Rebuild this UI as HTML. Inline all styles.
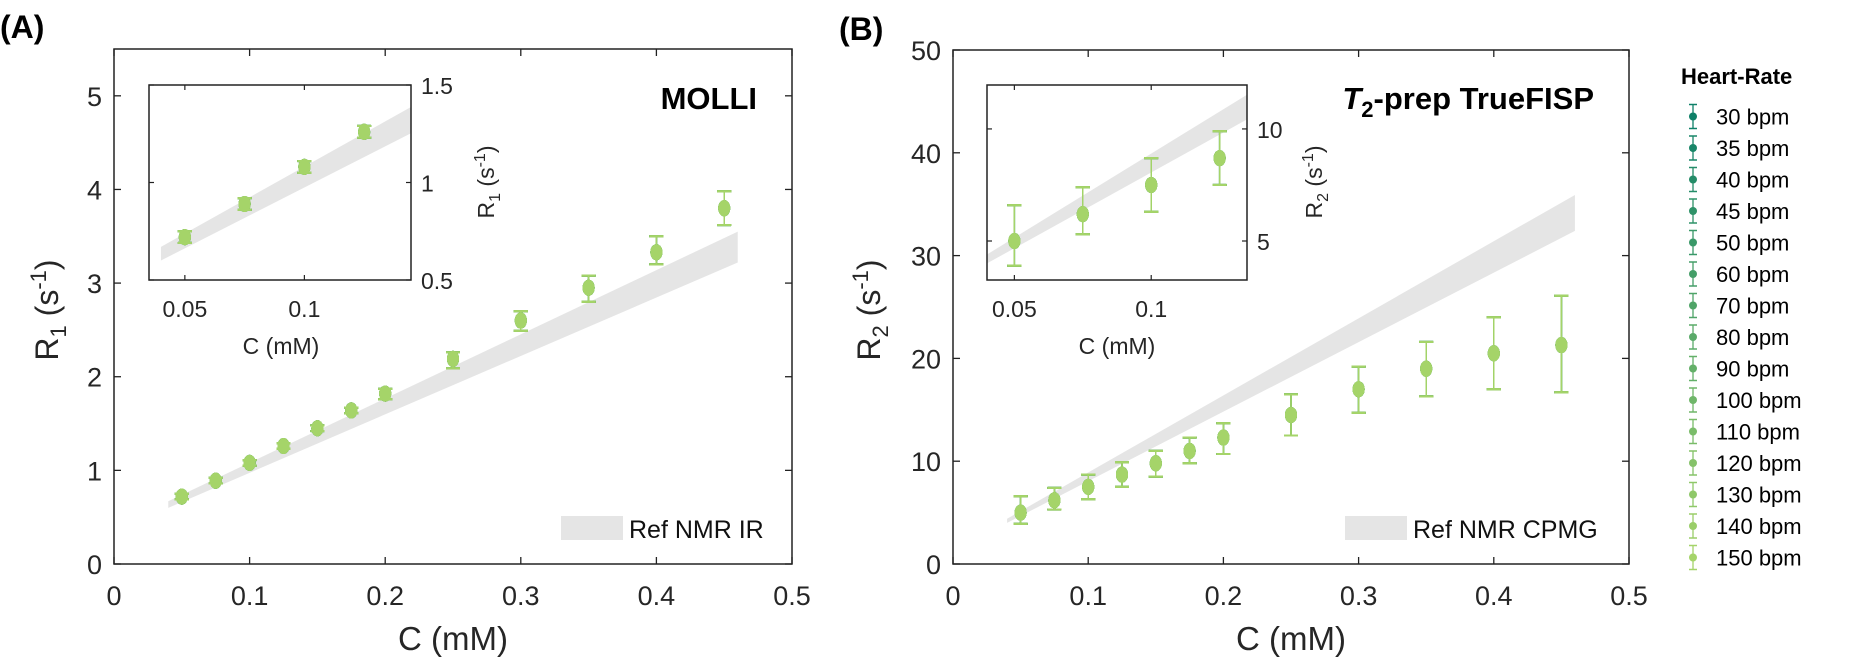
<!DOCTYPE html>
<html><head><meta charset="utf-8"><style>
html,body{margin:0;padding:0;background:#fff}
svg{display:block;font-family:"Liberation Sans",Arial,sans-serif}
</style></head><body>
<svg id="chart" width="1866" height="664" viewBox="0 0 1866 664" xmlns="http://www.w3.org/2000/svg"></svg>
<script>
const concs = [0.05,0.075,0.1,0.125,0.15,0.175,0.2,0.25,0.3,0.35,0.4,0.45];
const heartRates = [30,35,40,45,50,60,70,80,90,100,110,120,130,140,150];
// Panel A (MOLLI R1)
const meanA = [0.72,0.89,1.08,1.26,1.45,1.64,1.82,2.19,2.6,2.95,3.33,3.8];
const loA   = [0.69,0.86,1.05,1.23,1.42,1.61,1.76,2.09,2.49,2.8,3.2,3.62];
const hiA   = [0.75,0.92,1.11,1.29,1.48,1.67,1.87,2.26,2.7,3.08,3.5,3.98];
const bandAx = [0.04,0.46];
const bandAlo = [0.6,3.22];
const bandAhi = [0.67,3.55];
// Panel B (T2-prep TrueFISP R2)
const meanB = [5.0,6.2,7.5,8.7,9.8,11.0,12.3,14.5,17.0,19.0,20.5,21.3];
const loB   = [3.9,5.3,6.3,7.5,8.5,9.8,10.7,12.5,14.7,16.3,17.0,16.7];
const hiB   = [6.6,7.4,8.7,9.9,11.0,12.3,13.7,16.5,19.2,21.6,24.0,26.1];
const bandBx = [0.04,0.46];
const bandBlo = [4.0,32.4];
const bandBhi = [4.4,35.9];
const xTicksMain = [0,0.1,0.2,0.3,0.4,0.5];
const yTicksA = [0,1,2,3,4,5];
const yTicksB = [0,10,20,30,40,50];
const xTicksInset = [0.05,0.1];
const yTicksInsetA = [0.5,1,1.5];
const yTicksInsetB = [5,10];

const svg = document.getElementById('chart');
const NS = 'http://www.w3.org/2000/svg';
function mk(tag, attrs, parent){const e=document.createElementNS(NS,tag);for(const k in attrs)e.setAttribute(k,attrs[k]);(parent||svg).appendChild(e);return e;}
function txt(s, attrs, parent){const e=mk('text',attrs,parent);e.textContent=s;return e;}
function lerp(a,b,t){return Math.round(a+(b-a)*t);}
const c0=[14,128,104], c1=[165,212,105];
function col(i){const t=i/(heartRates.length-1);return `rgb(${lerp(c0[0],c1[0],t)},${lerp(c0[1],c1[1],t)},${lerp(c0[2],c1[2],t)})`;}
function scale(d0,d1,r0,r1){return v=>r0+(v-d0)/(d1-d0)*(r1-r0);}

function drawData(g, sx, sy, mean, lo, hi, bx, blo, bhi, x0, x1, y0, y1, clipId, cap, rx, ry){
  const cp = mk('clipPath',{id:clipId},g);
  mk('rect',{x:x0,y:y1,width:x1-x0,height:y0-y1},cp);
  const dg = mk('g',{'clip-path':`url(#${clipId})`},g);
  const band = mk('polygon',{points:`${sx(bx[0])},${sy(blo[0])} ${sx(bx[1])},${sy(blo[1])} ${sx(bx[1])},${sy(bhi[1])} ${sx(bx[0])},${sy(bhi[0])}`,fill:'#e5e5e5'},dg);
  
  
  heartRates.forEach((hr,i)=>{
    const sg = mk('g',{},dg);
    
    
    const c = col(i);
    concs.forEach((cv,j)=>{
      const x=sx(cv), yl=sy(lo[j]), yh=sy(hi[j]), ym=sy(mean[j]);
      mk('line',{x1:x,y1:yl,x2:x,y2:yh,stroke:c,'stroke-width':1.3},sg);
      mk('line',{x1:x-cap,y1:yl,x2:x+cap,y2:yl,stroke:c,'stroke-width':2},sg);
      mk('line',{x1:x-cap,y1:yh,x2:x+cap,y2:yh,stroke:c,'stroke-width':2},sg);
      const p = mk('ellipse',{cx:x,cy:ym,rx:rx,ry:ry,fill:c},sg);
      
      
    });
  });
}

function mainPanel(o){
  const g = mk('g',{});
  
  
  const sx=scale(0,0.5,o.x0,o.x1), sy=scale(0,o.ymax,o.y0,o.y1);
  drawData(g,sx,sy,o.mean,o.lo,o.hi,o.bx,o.blo,o.bhi,o.x0,o.x1,o.y0,o.y1,o.name+'-clip',7,6,8);
  mk('rect',{x:o.x0,y:o.y1,width:o.x1-o.x0,height:o.y0-o.y1,fill:'none',stroke:'#222','stroke-width':1.5},g);
  xTicksMain.forEach(t=>{const x=sx(t);
    mk('line',{x1:x,y1:o.y0,x2:x,y2:o.y0-7,stroke:'#222','stroke-width':1.3},g);
    mk('line',{x1:x,y1:o.y1,x2:x,y2:o.y1+7,stroke:'#222','stroke-width':1.3},g);
    const l=txt(String(t),{x:x,y:o.y0+41,'text-anchor':'middle','font-size':27,fill:'#262626'},g);
    });
  o.yticks.forEach(t=>{const y=sy(t);
    mk('line',{x1:o.x0,y1:y,x2:o.x0+7,y2:y,stroke:'#222','stroke-width':1.3},g);
    mk('line',{x1:o.x1,y1:y,x2:o.x1-7,y2:y,stroke:'#222','stroke-width':1.3},g);
    const l=txt(String(t),{x:o.x0-12,y:y+10,'text-anchor':'end','font-size':27,fill:'#262626'},g);
    });
  const xl=txt('C (mM)',{x:(o.x0+o.x1)/2,y:650,'text-anchor':'middle','font-size':33,fill:'#262626'},g);
  
  const yl=mk('text',{transform:`translate(${o.ylx},310) rotate(-90)`,'text-anchor':'middle','font-size':32,fill:'#262626'},g);
  yl.innerHTML=`R<tspan font-size="22" dy="8">${o.sub}</tspan><tspan dy="-8"> (s</tspan><tspan font-size="22" dy="-12">-1</tspan><tspan dy="12">)</tspan>`;
  
  // legend
  const lg=mk('g',{},g);
  mk('rect',{x:o.lgx,y:516,width:62,height:24,fill:'#e5e5e5'},lg);
  txt(o.lgText,{x:o.lgx+68,y:538,'font-size':25,fill:'#111'},lg);
  // inset
  const ig=mk('g',{},g);
  const I=o.inset;
  mk('rect',{x:I.x0,y:I.y1,width:I.x1-I.x0,height:I.y0-I.y1,fill:'#fff'},ig);
  const isx=scale(I.xmin,I.xmax,I.x0,I.x1), isy=scale(I.ymin,I.ymax,I.y0,I.y1);
  drawData(ig,isx,isy,o.mean,o.lo,o.hi,o.bx,o.blo,o.bhi,I.x0,I.x1,I.y0,I.y1,o.name+'-iclip',7,6,8);
  mk('rect',{x:I.x0,y:I.y1,width:I.x1-I.x0,height:I.y0-I.y1,fill:'none',stroke:'#222','stroke-width':1.5},ig);
  xTicksInset.forEach(t=>{const x=isx(t);
    mk('line',{x1:x,y1:I.y0,x2:x,y2:I.y0-5,stroke:'#222','stroke-width':1.2},ig);
    mk('line',{x1:x,y1:I.y1,x2:x,y2:I.y1+5,stroke:'#222','stroke-width':1.2},ig);
    txt(String(t),{x:x,y:317,'text-anchor':'middle','font-size':23,fill:'#262626'},ig);});
  I.yticks.forEach(t=>{const y=isy(t);
    mk('line',{x1:I.x0,y1:y,x2:I.x0+5,y2:y,stroke:'#222','stroke-width':1.2},ig);
    mk('line',{x1:I.x1,y1:y,x2:I.x1-5,y2:y,stroke:'#222','stroke-width':1.2},ig);
    txt(String(t),{x:I.x1+10,y:y+9,'font-size':23,fill:'#262626'},ig);});
  txt('C (mM)',{x:I.xlc,y:354,'text-anchor':'middle','font-size':23,fill:'#262626'},ig);
  const iyl=mk('text',{transform:`translate(${I.ylx},182) rotate(-90)`,'text-anchor':'middle','font-size':23,fill:'#262626'},ig);
  iyl.innerHTML=`R<tspan font-size="16" dy="6">${o.sub}</tspan><tspan dy="-6"> (s</tspan><tspan font-size="16" dy="-9">-1</tspan><tspan dy="9">)</tspan>`;
}

mainPanel({name:'panel-a',x0:114,x1:792,y0:564,y1:49,ymax:5.5,yticks:yTicksA,mean:meanA,lo:loA,hi:hiA,bx:bandAx,blo:bandAlo,bhi:bandAhi,ylx:58,sub:'1',lgx:561,lgText:'Ref NMR IR',
  inset:{x0:149,x1:411,y0:280,y1:85,xmin:0.035,xmax:0.1446,ymin:0.5,ymax:1.5,yticks:yTicksInsetA,xlc:281,ylx:494}});
mainPanel({name:'panel-b',x0:953,x1:1629,y0:564,y1:50,ymax:50,yticks:yTicksB,mean:meanB,lo:loB,hi:hiB,bx:bandBx,blo:bandBlo,bhi:bandBhi,ylx:880,sub:'2',lgx:1345,lgText:'Ref NMR CPMG',
  inset:{x0:987,x1:1247,y0:280,y1:85,xmin:0.040,xmax:0.135,ymin:3.26,ymax:11.96,yticks:yTicksInsetB,xlc:1117,ylx:1322}});

// titles
txt('(A)',{x:0,y:38,'font-size':32,'font-weight':'bold',fill:'#000'});
txt('(B)',{x:839,y:40,'font-size':32,'font-weight':'bold',fill:'#000'});
txt('MOLLI',{x:757,y:109,'text-anchor':'end','font-size':31,'font-weight':'bold',fill:'#000'});
const tt=mk('text',{x:1594,y:109,'text-anchor':'end','font-size':31,'font-weight':'bold',fill:'#000'});
tt.innerHTML='<tspan font-style="italic">T</tspan><tspan font-size="22" dy="8">2</tspan><tspan dy="-8">-prep TrueFISP</tspan>';



// heart-rate legend
const leg=mk('g',{});


txt('Heart-Rate',{x:1681,y:84,'font-size':22,'font-weight':'bold',fill:'#000'},leg);
heartRates.forEach((hr,i)=>{
  const y=116.5+i*31.5, c=col(i);
  const e=mk('g',{},leg);
  
  
  mk('line',{x1:1693,y1:y-12,x2:1693,y2:y+12,stroke:c,'stroke-width':1.3},e);
  mk('line',{x1:1689,y1:y-12,x2:1697,y2:y-12,stroke:c,'stroke-width':1.5},e);
  mk('line',{x1:1689,y1:y+12,x2:1697,y2:y+12,stroke:c,'stroke-width':1.5},e);
  mk('circle',{cx:1693,cy:y,r:4,fill:c},e);
  txt(hr+' bpm',{x:1716,y:y+8,'font-size':22,fill:'#000'},e);
});
</script>
</body></html>
